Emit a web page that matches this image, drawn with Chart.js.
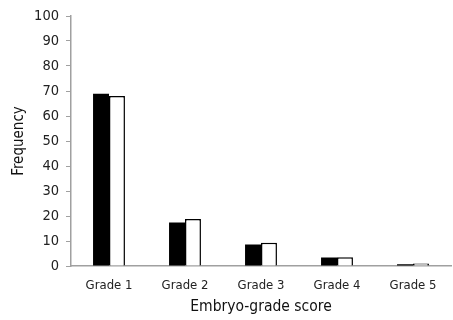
<!DOCTYPE html>
<html>
<head>
<meta charset="utf-8">
<script src="https://cdn.jsdelivr.net/npm/chart.js@4"></script>
<style>
html,body{margin:0;padding:0;background:#fff;}
#wrap{width:453px;height:320px;position:relative;}
</style>
</head>
<body>
<div id="wrap"><canvas id="c" width="453" height="320"></canvas></div>
<script>
const categories = ["Grade 1", "Grade 2", "Grade 3", "Grade 4", "Grade 5"];
const seriesA = [68.9, 17.4, 8.6, 3.4, 0.7];
const seriesB = [68.0, 18.8, 9.3, 3.5, 1.0];
const yTicks = [0, 10, 20, 30, 40, 50, 60, 70, 80, 90, 100];
const FONT = "'DejaVu Sans Condensed', 'Liberation Sans Narrow', 'Arial Narrow', sans-serif";
const AX = '#a0a0a0';

new Chart(document.getElementById('c'), {
  type: 'bar',
  data: {
    labels: categories,
    datasets: [
      { label: 'A', data: seriesA, backgroundColor: '#000000', borderColor: '#000000', borderWidth: 0,
        barPercentage: 1.0, categoryPercentage: 0.42 },
      { label: 'B', data: seriesB, backgroundColor: '#ffffff', borderColor: '#000000', borderWidth: 1.5,
        barPercentage: 1.0, categoryPercentage: 0.42 }
    ]
  },
  options: {
    responsive: false,
    animation: false,
    layout: { padding: { left: 10, right: 2, top: 16, bottom: 4 } },
    plugins: { legend: { display: false }, tooltip: { enabled: false } },
    scales: {
      x: {
        grid: { display: true, drawOnChartArea: false, drawTicks: false, color: AX },
        border: { display: true, color: AX, width: 1.5 },
        ticks: { color: '#222', font: { family: FONT, size: 13 }, padding: 12, maxRotation: 0 },
        title: { display: true, text: 'Embryo-grade score', color: '#111', font: { family: FONT, size: 15.5 }, padding: { top: 2, bottom: 0 } },
        afterFit: (s) => { s.height = 50; }
      },
      y: {
        min: 0, max: 100,
        afterBuildTicks: (s) => { s.ticks = yTicks.map(v => ({ value: v })); },
        grid: { display: true, drawOnChartArea: false, drawTicks: true, tickLength: 5, color: AX },
        border: { display: true, color: AX, width: 1.5 },
        ticks: { color: '#222', font: { family: FONT, size: 14.5 }, padding: 7 },
        title: { display: true, text: 'Frequency', color: '#111', font: { family: FONT, size: 15 }, padding: { top: 0, bottom: 4 } },
        afterFit: (s) => { s.width = 61; }
      }
    }
  }
});
</script>
</body>
</html>
